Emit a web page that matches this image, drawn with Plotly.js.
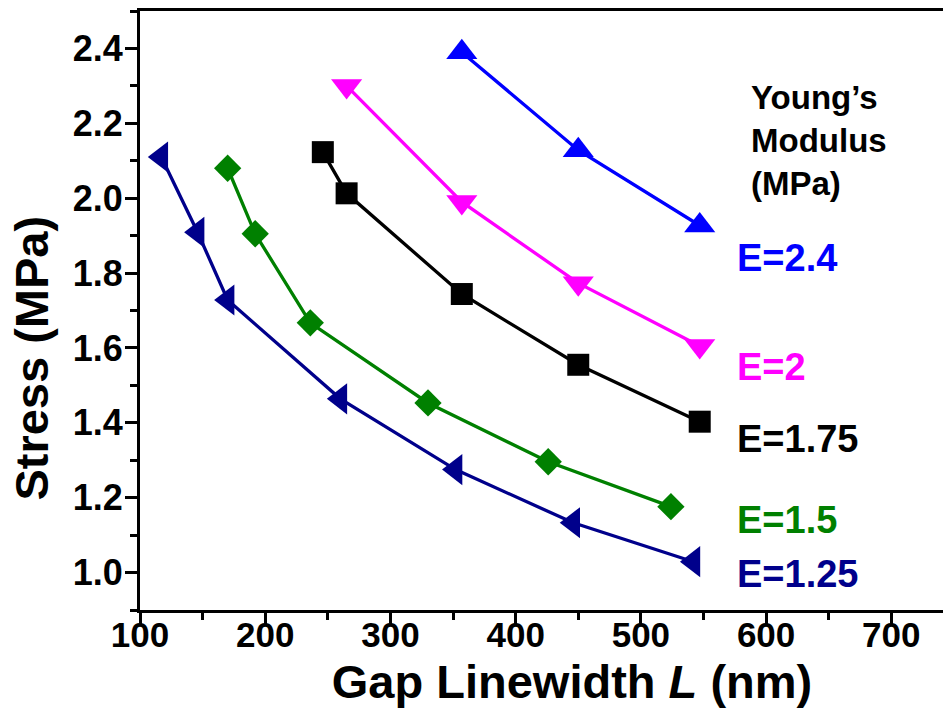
<!DOCTYPE html>
<html>
<head>
<meta charset="utf-8">
<script src="https://cdn.plot.ly/plotly-3.0.1.min.js"></script>
<style>
  html, body { margin: 0; padding: 0; overflow: hidden; background: #fff; }
  #chart { width: 1004px; height: 719px; }
</style>
</head>
<body>
<div id="chart"></div>
<script>
// Data
const L_125 = [117, 146, 170, 260, 352, 446, 542];
const S_125 = [2.11, 1.909, 1.728, 1.464, 1.275, 1.133, 1.029];

const L_15 = [170, 192, 236, 330, 426, 524];
const S_15 = [2.08, 1.905, 1.667, 1.453, 1.296, 1.176];

const L_175 = [246, 265, 357, 450, 547];
const S_175 = [2.123, 2.013, 1.744, 1.555, 1.403];

const L_2 = [265, 357, 450, 547];
const S_2 = [2.30, 1.99, 1.773, 1.605];

const L_24 = [357, 450, 547];
const S_24 = [2.39, 2.128, 1.927];

const seriesNames = ["E=1.25", "E=1.5", "E=1.75", "E=2", "E=2.4"];
const seriesColors = ["#00008B", "#008000", "#000000", "#FF00FF", "#0000FF"];
const seriesSymbols = ["triangle-left", "diamond", "square", "triangle-down", "triangle-up"];
const seriesSizes = [27, 21, 22, 27, 27];
const labelY = [0.995, 1.14, 1.356, 1.55, 1.84];
const legendTitle = "Young’s<br>Modulus<br>(MPa)";

const xs = [L_125, L_15, L_175, L_2, L_24];
const ys = [S_125, S_15, S_175, S_2, S_24];

const FONT = "Arial, 'Liberation Sans', sans-serif";

const traces = xs.map((x, i) => ({
  x: x, y: ys[i], type: "scatter", mode: "lines+markers", name: seriesNames[i],
  line: { color: seriesColors[i], width: 3.3 },
  marker: { symbol: seriesSymbols[i], size: seriesSizes[i], color: seriesColors[i], line: { width: 0 } },
  showlegend: false, cliponaxis: false
}));

const annotations = seriesNames.map((n, i) => ({
  text: "<b>" + n + "</b>", x: 575, y: labelY[i], xref: "x", yref: "y",
  xanchor: "left", yanchor: "middle", showarrow: false,
  font: { family: FONT, size: 38, color: seriesColors[i] }
}));
annotations.push({
  text: "<b>" + legendTitle + "</b>", x: 586, y: 2.155, xref: "x", yref: "y",
  xanchor: "left", yanchor: "middle", align: "left", showarrow: false,
  font: { family: FONT, size: 33, color: "#000" }
});
annotations.push({
  text: "<b>Stress (MPa)</b>", x: -0.126, y: 0.42, xref: "paper", yref: "paper",
  xanchor: "center", yanchor: "middle", textangle: -90, showarrow: false,
  font: { family: FONT, size: 47, color: "#000" }
});

const layout = {
  width: 1004, height: 719,
  margin: { l: 140, r: 0, t: 11, b: 109 },
  paper_bgcolor: "#fff", plot_bgcolor: "#fff",
  font: { family: FONT, color: "#000" },
  xaxis: {
    range: [100, 790], showgrid: false, zeroline: false,
    showline: true, linewidth: 3, linecolor: "#000", mirror: true,
    ticks: "outside", ticklen: 12, tickwidth: 3, tickcolor: "#000",
    dtick: 100, tick0: 100, ticklabelstandoff: -20,
    minor: { dtick: 50, ticklen: 7, tickwidth: 3, tickcolor: "#000", ticks: "outside", showgrid: false },
    tickfont: { family: FONT, size: 35, color: "#000", weight: "bold" },
    title: { text: "<b>Gap Linewidth <i>L</i> (nm)</b>", font: { family: FONT, size: 47, color: "#000" }, standoff: 13 }
  },
  yaxis: {
    range: [0.9, 2.5], showgrid: false, zeroline: false,
    showline: true, linewidth: 3, linecolor: "#000", mirror: true,
    ticks: "outside", ticklen: 12, tickwidth: 3, tickcolor: "#000",
    dtick: 0.2, tick0: 1.0, tickformat: ".1f", ticklabelstandoff: -5,
    minor: { dtick: 0.1, ticklen: 7, tickwidth: 3, tickcolor: "#000", ticks: "outside", showgrid: false },
    tickfont: { family: FONT, size: 36, color: "#000", weight: "bold" }
  },
  annotations: annotations
};

Plotly.newPlot("chart", traces, layout, { displayModeBar: false, staticPlot: true });
</script>
</body>
</html>
